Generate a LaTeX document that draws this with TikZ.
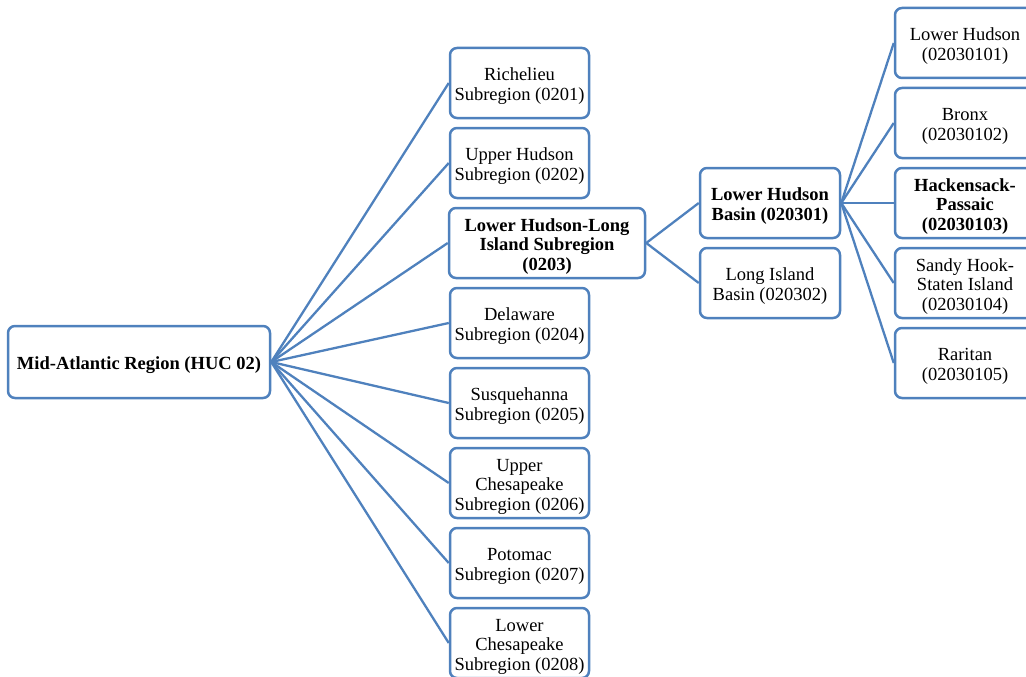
\documentclass[tikz,border=0pt]{standalone}
\usepackage{fontspec}
\setmainfont{Liberation Serif}
\definecolor{lineblue}{HTML}{4F81BD}
\newcommand{\topstrut}{\rule{0pt}{19pt}}
\begin{document}
\begin{tikzpicture}[x=1pt,y=-1pt,
  box/.style={draw=lineblue,line width=2.5pt,rounded corners=7pt,fill=white,
    minimum width=139pt,minimum height=70pt,align=center,inner sep=0pt,
    font=\fontsize{18.5}{19.5}\selectfont},
  conn/.style={draw=lineblue,line width=2.3pt}]
\useasboundingbox (0,0) rectangle (1026,677);
\begin{scope}
\clip (0,0) rectangle (1026,677);
% root
\node[box,minimum width=262pt,minimum height=72pt] (root) at (139,362) {\topstrut\textbf{Mid-Atlantic Region (HUC 02)}};
% column 2
\node[box] (s1) at (519.5,83) {\topstrut Richelieu\\Subregion (0201)};
\node[box] (s2) at (519.5,163) {\topstrut Upper Hudson\\Subregion (0202)};
\node[box,minimum width=196pt] (s3) at (547,243) {\topstrut\textbf{Lower Hudson-Long}\\\textbf{Island Subregion}\\\textbf{(0203)}};
\node[box] (s4) at (519.5,323) {\topstrut Delaware\\Subregion (0204)};
\node[box] (s5) at (519.5,403) {\topstrut Susquehanna\\Subregion (0205)};
\node[box] (s6) at (519.5,483) {\topstrut Upper\\Chesapeake\\Subregion (0206)};
\node[box] (s7) at (519.5,563) {\topstrut Potomac\\Subregion (0207)};
\node[box] (s8) at (519.5,643) {\topstrut Lower\\Chesapeake\\Subregion (0208)};
% column 3
\node[box,minimum width=140pt] (b1) at (770,203) {\topstrut\textbf{Lower Hudson}\\\textbf{Basin (020301)}};
\node[box,minimum width=140pt] (b2) at (770,283) {\topstrut Long Island\\Basin (020302)};
% column 4
\node[box,minimum width=140pt] (w1) at (965,43) {\topstrut Lower Hudson\\(02030101)};
\node[box,minimum width=140pt] (w2) at (965,123) {\topstrut Bronx\\(02030102)};
\node[box,minimum width=140pt] (w3) at (965,203) {\topstrut\textbf{Hackensack-}\\\textbf{Passaic}\\\textbf{(02030103)}};
\node[box,minimum width=140pt] (w4) at (965,283) {\topstrut Sandy Hook-\\Staten Island\\(02030104)};
\node[box,minimum width=140pt] (w5) at (965,363) {\topstrut Raritan\\(02030105)};
% connectors
\foreach \n in {s1,s2,s3,s4,s5,s6,s7,s8}
  \draw[conn] (root.east) -- (\n.west);
\foreach \n in {b1,b2}
  \draw[conn] (s3.east) -- (\n.west);
\foreach \n in {w1,w2,w3,w4,w5}
  \draw[conn] (b1.east) -- (\n.west);
\end{scope}
\end{tikzpicture}
\end{document}
